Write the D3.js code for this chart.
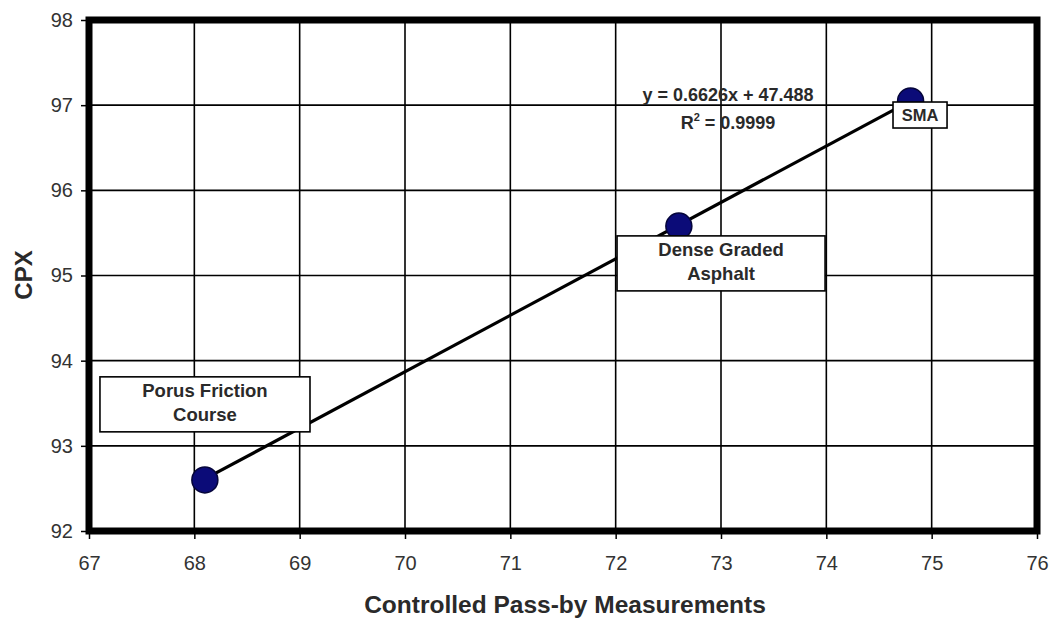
<!DOCTYPE html>
<html>
<head>
<meta charset="utf-8">
<script src="https://cdn.jsdelivr.net/npm/d3@7"></script>
<style>
  body { margin: 0; background: #fff; }
  svg { display: block; font-family: Arial, "Liberation Sans", sans-serif; }
</style>
</head>
<body>
<svg id="chart" width="1051" height="621"></svg>
<script>
// Surface types and their noise levels
const surfaces = ["Porus Friction Course", "Dense Graded Asphalt", "SMA"];
const passBy = [68.1, 72.6, 74.8];   // Controlled Pass-by Measurements
const cpx = [92.6, 95.58, 97.05];    // CPX
const xTicks = [67, 68, 69, 70, 71, 72, 73, 74, 75, 76];
const yTicks = [92, 93, 94, 95, 96, 97, 98];
const fitSlope = 0.6626;
const fitIntercept = 47.488;
const fitR2 = 0.9999;

// Label boxes: top-left corner in data units, width in x units, lines of text
const labelLines = [["Porus Friction", "Course"], ["Dense Graded", "Asphalt"], ["SMA"]];
const labelAnchor = [[67.104, 93.81], [72.013, 95.465], [74.633, 97.037]];
const labelWidth = [1.994, 1.975, 0.513];

const svg = d3.select("#chart");
const m = { left: 89, right: 1037, top: 20, bottom: 531 };

const x = d3.scaleLinear().domain([67, 76]).range([m.left, m.right]);
const y = d3.scaleLinear().domain([92, 98]).range([m.bottom, m.top]);

// Gridlines
const grid = svg.append("g");
grid.selectAll("line.v").data(xTicks).join("line")
  .attr("x1", d => x(d)).attr("x2", d => x(d))
  .attr("y1", m.top).attr("y2", m.bottom)
  .attr("stroke", "#000").attr("stroke-width", 1.6);
grid.selectAll("line.h").data(yTicks).join("line")
  .attr("x1", m.left).attr("x2", m.right)
  .attr("y1", d => y(d)).attr("y2", d => y(d))
  .attr("stroke", "#000").attr("stroke-width", 1.6);

// Axes
const xAxis = svg.append("g")
  .attr("transform", `translate(0,${m.bottom})`)
  .call(d3.axisBottom(x).tickValues(xTicks).tickFormat(d3.format("d")).tickSize(8).tickPadding(17));
const yAxis = svg.append("g")
  .attr("transform", `translate(${m.left},0)`)
  .call(d3.axisLeft(y).tickValues(yTicks).tickFormat(d3.format("d")).tickSize(8).tickPadding(8));
[xAxis, yAxis].forEach(a => {
  a.select(".domain").remove();
  a.selectAll("line").attr("stroke", "#000").attr("stroke-width", 1.5);
  a.selectAll("text").attr("font-size", 20).attr("fill", "#333")
    .attr("font-family", "Arial, 'Liberation Sans', sans-serif");
});

// Plot frame
svg.append("rect")
  .attr("x", m.left).attr("y", m.top)
  .attr("width", m.right - m.left).attr("height", m.bottom - m.top)
  .attr("fill", "none").attr("stroke", "#000").attr("stroke-width", 7);

// Linear trendline over the measured range
const xMin = d3.min(passBy), xMax = d3.max(passBy);
svg.append("line")
  .attr("x1", x(xMin)).attr("y1", y(fitSlope * xMin + fitIntercept))
  .attr("x2", x(xMax)).attr("y2", y(fitSlope * xMax + fitIntercept))
  .attr("stroke", "#000").attr("stroke-width", 3.2);

// Data points
svg.selectAll("circle.pt").data(passBy).join("circle")
  .attr("cx", d => x(d)).attr("cy", (d, i) => y(cpx[i]))
  .attr("r", 13)
  .attr("fill", "#0b0b78").attr("stroke", "#05053a").attr("stroke-width", 1.5);

// Trendline equation
const eq = svg.append("g").attr("font-weight", "bold").attr("font-size", 18).attr("fill", "#2a2a2a");
eq.append("text").attr("x", 728).attr("y", 101).attr("text-anchor", "middle")
  .text(`y = ${fitSlope}x + ${fitIntercept}`);
const r2 = eq.append("text").attr("x", 728).attr("y", 129).attr("text-anchor", "middle");
r2.append("tspan").text("R");
r2.append("tspan").attr("dy", -8).attr("font-size", 11).text("2");
r2.append("tspan").attr("dy", 8).text(` = ${fitR2}`);

// Point labels
surfaces.forEach((name, i) => {
  const lines = labelLines[i];
  const bx = x(labelAnchor[i][0]), by = y(labelAnchor[i][1]);
  const bw = x(labelAnchor[i][0] + labelWidth[i]) - bx;
  const bh = lines.length === 1 ? 26 : 55;
  const g = svg.append("g").attr("class", "label");
  g.append("rect").attr("x", bx).attr("y", by).attr("width", bw).attr("height", bh)
    .attr("fill", "#fff").attr("stroke", "#000").attr("stroke-width", 1.6);
  lines.forEach((t, j) => {
    g.append("text")
      .attr("x", bx + bw / 2)
      .attr("y", by + (lines.length === 1 ? 19 : 20 + j * 24))
      .attr("text-anchor", "middle")
      .attr("font-size", lines.length === 1 ? 16.5 : 18.5)
      .attr("font-weight", "bold").attr("fill", "#2a2a2a")
      .text(t);
  });
});

// Axis titles
svg.append("text")
  .attr("x", 565).attr("y", 613)
  .attr("text-anchor", "middle").attr("font-size", 24.5).attr("font-weight", "bold").attr("fill", "#2a2a2a")
  .text("Controlled Pass-by Measurements");
svg.append("text")
  .attr("transform", `translate(32,275) rotate(-90)`)
  .attr("text-anchor", "middle").attr("font-size", 24).attr("font-weight", "bold").attr("fill", "#2a2a2a")
  .text("CPX");
</script>
</body>
</html>
